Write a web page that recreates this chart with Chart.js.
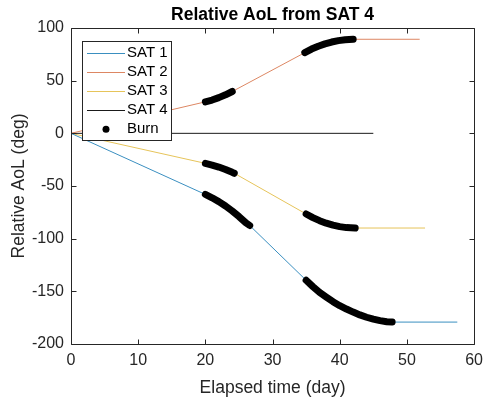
<!DOCTYPE html>
<html>
<head>
<meta charset="utf-8">
<script src="https://cdn.jsdelivr.net/npm/chart.js@4"></script>
<style>
  html, body { margin: 0; padding: 0; background: #fff; }
  #wrap { width: 490px; height: 399px; }
</style>
</head>
<body>
<div id="wrap"><canvas id="aolcanvas" width="490" height="399"></canvas></div>
<script>
// relative argument of latitude (deg) vs elapsed time (day)
var sat1Days = [0, 20, 21, 22, 23, 24, 25, 26, 26.6, 35, 36, 37, 38, 39, 40, 41, 42, 43, 44, 45, 46, 47, 47.8, 57.5];
var sat1Aol  = [0, -58, -61.2, -64.8, -69.0, -73.8, -79.0, -84.8, -87.5, -139.5, -145.5, -151.0, -155.5, -159.8, -163.6, -166.8, -169.7, -172.4, -174.6, -176.4, -177.8, -178.8, -179.2, -179.2];
var sat1Burns = [[20, 26.6], [35, 47.8]];

var sat2Days = [0, 20, 21, 22, 23, 24, 34.8, 35.8, 36.8, 37.8, 38.8, 39.8, 40.8, 42, 51.9];
var sat2Aol  = [0, 29.9, 31.6, 33.9, 36.6, 39.7, 76.6, 80.0, 82.7, 84.9, 86.7, 88.0, 88.8, 89.3, 89.3];
var sat2Burns = [[20, 24], [34.8, 42]];

var sat3Days = [0, 20, 21, 22, 23, 24, 24.3, 35, 36, 37, 38, 39, 40, 41, 42.3, 52.7];
var sat3Aol  = [0, -28.5, -30.1, -32.0, -34.3, -37.0, -37.9, -76.6, -80.0, -82.9, -85.3, -87.2, -88.6, -89.5, -89.9, -89.9];
var sat3Burns = [[20, 24.3], [35, 42.3]];

var sat4Days = [0, 45];
var sat4Aol  = [0, 0];

var seriesNames = ['SAT 1', 'SAT 2', 'SAT 3', 'SAT 4'];
var burnName = 'Burn';
var seriesColors = ['#3a8fc0', '#dd8763', '#e6c45a', '#1a1a1a'];

var xTickValues = [0, 10, 20, 30, 40, 50, 60];
var yTickValues = [-200, -150, -100, -50, 0, 50, 100];

var titleText = 'Relative AoL from SAT 4';
var xTitleText = 'Elapsed time (day)';
var yTitleText = 'Relative AoL (deg)';

var FONT = '"Liberation Sans", Arial, Helvetica, sans-serif';

function toPoints(days, aol) {
	return days.map(function(d, i){ return {x: d, y: aol[i]}; });
}

// pull the burn arcs out of each track, a null point breaks the line between arcs
function burnPoints() {
	var tracks = [[sat1Days, sat1Aol, sat1Burns], [sat2Days, sat2Aol, sat2Burns], [sat3Days, sat3Aol, sat3Burns]];
	var pts = [];
	tracks.forEach(function(t){
		t[2].forEach(function(r){
			t[0].forEach(function(d, i){
				if (d >= r[0] && d <= r[1]) pts.push({x: d, y: t[1][i]});
			});
			pts.push({x: r[1], y: null});
		});
	});
	return pts;
}

var tracks = [toPoints(sat1Days, sat1Aol), toPoints(sat2Days, sat2Aol), toPoints(sat3Days, sat3Aol), toPoints(sat4Days, sat4Aol)];

var datasets = [{
	label: burnName,
	data: burnPoints(),
	showLine: true,
	spanGaps: false,
	borderColor: '#000',
	backgroundColor: '#000',
	borderWidth: 7,
	borderCapStyle: 'round',
	borderJoinStyle: 'round',
	pointRadius: 0,
	order: 0
}];
tracks.forEach(function(pts, i){
	datasets.push({
		label: seriesNames[i],
		data: pts,
		showLine: true,
		borderColor: seriesColors[i],
		borderWidth: 1,
		pointRadius: 0,
		tension: 0,
		order: 1
	});
});

// box, inward ticks, titles and legend drawn the matlab way
var matlabAxes = {
	id: 'matlabAxes',
	afterDraw: function(chart) {
		var ctx = chart.ctx, a = chart.chartArea;
		var xs = chart.scales.x, ys = chart.scales.y;
		var L = Math.round(a.left) + 0.5, R = Math.round(a.right) + 0.5;
		var T = Math.round(a.top) + 0.5, B = Math.round(a.bottom) + 0.5;
		ctx.save();
		ctx.strokeStyle = '#262626';
		ctx.lineWidth = 1;
		ctx.beginPath();
		ctx.rect(L, T, R - L, B - T);
		xTickValues.forEach(function(v){
			var px = Math.round(xs.getPixelForValue(v)) + 0.5;
			ctx.moveTo(px, B); ctx.lineTo(px, B - 5);
			ctx.moveTo(px, T); ctx.lineTo(px, T + 5);
		});
		yTickValues.forEach(function(v){
			var py = Math.round(ys.getPixelForValue(v)) + 0.5;
			ctx.moveTo(L, py); ctx.lineTo(L + 5, py);
			ctx.moveTo(R, py); ctx.lineTo(R - 5, py);
		});
		ctx.stroke();

		ctx.fillStyle = '#000';
		ctx.textAlign = 'center';
		ctx.textBaseline = 'alphabetic';
		ctx.font = 'bold 17.5px ' + FONT;
		ctx.fillText(titleText, (a.left + a.right) / 2, 20);

		ctx.fillStyle = '#262626';
		ctx.font = '17.5px ' + FONT;
		ctx.fillText(xTitleText, (a.left + a.right) / 2, 392.5);
		ctx.save();
		ctx.translate(23.5, (a.top + a.bottom) / 2);
		ctx.rotate(-Math.PI / 2);
		ctx.fillText(yTitleText, 0, 0);
		ctx.restore();

		// legend
		var bx = 82.5, by = 41.5, bw = 89, bh = 99;
		ctx.fillStyle = '#fff';
		ctx.fillRect(bx, by, bw, bh);
		ctx.strokeStyle = '#262626';
		ctx.strokeRect(bx, by, bw, bh);
		ctx.font = '15px ' + FONT;
		ctx.textAlign = 'left';
		ctx.textBaseline = 'middle';
		var rowY = [52.5, 71.7, 90.9, 110.1, 129.3];
		seriesNames.forEach(function(name, i){
			ctx.strokeStyle = seriesColors[i];
			ctx.lineWidth = 1;
			ctx.beginPath();
			ctx.moveTo(87, Math.round(rowY[i]) + 0.5);
			ctx.lineTo(125, Math.round(rowY[i]) + 0.5);
			ctx.stroke();
			ctx.fillStyle = '#000';
			ctx.fillText(name, 127, rowY[i]);
		});
		ctx.fillStyle = '#000';
		ctx.beginPath();
		ctx.arc(106, rowY[4], 3.5, 0, Math.PI * 2);
		ctx.fill();
		ctx.fillText(burnName, 127, rowY[4]);
		ctx.restore();
	}
};

var ctx = document.getElementById('aolcanvas').getContext('2d');
window.aolChart = new Chart(ctx, {
	type: 'scatter',
	data: { datasets: datasets },
	plugins: [matlabAxes],
	options: {
		responsive: false,
		animation: false,
		layout: { padding: { top: 28, right: 10, left: 0, bottom: 0 } },
		plugins: {
			legend: { display: false },
			title: { display: false },
			tooltip: { enabled: false }
		},
		scales: {
			x: {
				type: 'linear',
				min: 0,
				max: 60,
				afterBuildTicks: function(s){ s.ticks = xTickValues.map(function(v){ return {value: v}; }); },
				afterFit: function(s){ s.height = 55; },
				grid: { display: false, drawTicks: false },
				border: { display: false },
				ticks: { padding: 7, color: '#262626', font: { family: FONT, size: 16 }, maxRotation: 0 }
			},
			y: {
				type: 'linear',
				min: -200,
				max: 100,
				afterBuildTicks: function(s){ s.ticks = yTickValues.map(function(v){ return {value: v}; }); },
				afterFit: function(s){ s.width = 71; },
				grid: { display: false, drawTicks: false },
				border: { display: false },
				ticks: { padding: 7, color: '#262626', font: { family: FONT, size: 16 } }
			}
		}
	}
});
</script>
</body>
</html>
